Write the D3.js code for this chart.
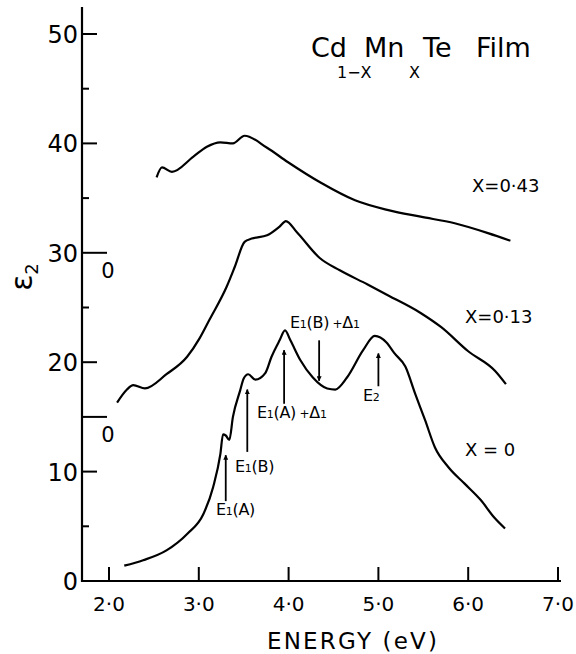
<!DOCTYPE html>
<html>
<head>
<meta charset="utf-8">
<script src="https://cdn.jsdelivr.net/npm/d3@7"></script>
<style>
    body { margin: 0; background: #fff; }
    svg { display: block; font-family: "DejaVu Sans", sans-serif; }
</style>
</head>
<body>
<div id="chart"></div>
<script>

// Spectra: photon energy (eV) and eps2 (before the vertical offset)
var energy0 = [2.17, 2.38, 2.64, 2.87, 3.05, 3.16, 3.24, 3.27, 3.30, 3.34, 3.38, 3.46, 3.50, 3.55, 3.63, 3.74, 3.81, 3.90, 3.96, 4.02, 4.13, 4.27, 4.43, 4.52, 4.65, 4.83, 4.96, 5.09, 5.18, 5.30, 5.41, 5.52, 5.63, 5.78, 5.96, 6.14, 6.29, 6.41];
var eps0    = [1.4, 1.9, 2.8, 4.3, 6.1, 8.6, 11.6, 13.4, 13.3, 12.9, 15.0, 17.4, 18.5, 18.9, 18.4, 19.0, 20.5, 22.0, 22.9, 22.0, 20.2, 18.6, 17.6, 17.5, 18.6, 21.1, 22.4, 21.8, 20.8, 19.6, 17.1, 14.7, 12.2, 10.4, 8.9, 7.4, 5.8, 4.8];

var energy13 = [2.09, 2.20, 2.27, 2.40, 2.64, 2.87, 3.01, 3.12, 3.31, 3.40, 3.51, 3.59, 3.76, 3.90, 3.97, 4.09, 4.35, 4.57, 4.88, 5.11, 5.47, 5.70, 6.00, 6.30, 6.42];
var eps13    = [1.3, 2.5, 2.9, 2.6, 3.9, 5.5, 7.2, 8.9, 11.9, 13.7, 16.0, 16.3, 16.6, 17.4, 17.9, 16.9, 14.5, 13.4, 12.1, 11.1, 9.5, 8.2, 6.0, 4.2, 3.0];

var energy43 = [2.53, 2.59, 2.70, 2.94, 3.09, 3.24, 3.38, 3.51, 3.76, 3.99, 4.36, 4.74, 5.11, 5.47, 5.85, 6.22, 6.47];
var eps43    = [6.9, 7.8, 7.4, 8.8, 9.7, 10.1, 10.0, 10.7, 9.6, 8.3, 6.4, 4.8, 3.9, 3.3, 2.7, 1.8, 1.1];

var seriesNames = ["X = 0", "X=0·13", "X=0·43"];
var offsets = [0, 15, 30];

var xTicks = [2, 3, 4, 5, 6, 7];
var xTickLabels = ["2·0", "3·0", "4·0", "5·0", "6·0", "7·0"];
var yTicks = [0, 10, 20, 30, 40, 50];
var yMinorTicks = [5, 15, 25, 35, 45];

// Arrow annotations on the X = 0 curve: [energy, tail eps, head eps]
var arrowNames = ["E1(A)", "E1(B)", "E1(A)+Δ1", "E1(B)+Δ1", "E2"];
var arrowE     = [3.30, 3.54, 3.95, 4.34, 5.00];
var arrowTail  = [7.3, 11.8, 16.2, 22.0, 17.8];
var arrowHead  = [11.5, 17.5, 21.1, 18.3, 20.8];

var width = 576, height = 654;

var x = d3.scaleLinear().domain([2, 7]).range([109, 558]);
var y = d3.scaleLinear().domain([0, 50]).range([581, 34]);

var svg = d3.select("#chart").append("svg")
    .attr("width", width)
    .attr("height", height);

svg.append("defs").append("marker")
    .attr("id", "head")
    .attr("viewBox", "0 0 10 10")
    .attr("refX", 9).attr("refY", 5)
    .attr("markerWidth", 5).attr("markerHeight", 5)
    .attr("markerUnits", "userSpaceOnUse")
    .attr("orient", "auto")
    .append("path")
    .attr("d", "M0,0 L10,5 L0,10 Z")
    .attr("fill", "#000");

// frame lines
svg.append("line")
    .attr("x1", 82).attr("x2", 82)
    .attr("y1", 7).attr("y2", y(0) + 1)
    .attr("stroke", "#000").attr("stroke-width", 2.2);
svg.append("line")
    .attr("x1", 81).attr("x2", 561)
    .attr("y1", y(0)).attr("y2", y(0))
    .attr("stroke", "#000").attr("stroke-width", 2.2);

// x ticks point up into the plot
svg.append("g").selectAll("line")
    .data(xTicks)
    .join("line")
    .attr("x1", d => x(d)).attr("x2", d => x(d))
    .attr("y1", y(0)).attr("y2", y(0) - 14)
    .attr("stroke", "#000").attr("stroke-width", 2);

svg.append("g").selectAll("text")
    .data(xTicks)
    .join("text")
    .attr("x", d => x(d))
    .attr("y", 611)
    .attr("text-anchor", "middle")
    .attr("font-size", 20)
    .text((d, i) => xTickLabels[i]);

// y ticks point right into the plot
svg.append("g").selectAll("line")
    .data(yTicks.filter(d => d > 0))
    .join("line")
    .attr("x1", 82).attr("x2", d => offsets.indexOf(d) > 0 ? 107 : 97)
    .attr("y1", d => y(d)).attr("y2", d => y(d))
    .attr("stroke", "#000").attr("stroke-width", 2);

svg.append("g").selectAll("line")
    .data(yMinorTicks)
    .join("line")
    .attr("x1", 82).attr("x2", d => offsets.indexOf(d) > 0 ? 107 : 89)
    .attr("y1", d => y(d)).attr("y2", d => y(d))
    .attr("stroke", "#000").attr("stroke-width", 2);

svg.append("g").selectAll("text")
    .data(yTicks)
    .join("text")
    .attr("x", 78)
    .attr("y", d => y(d) + 9)
    .attr("text-anchor", "end")
    .attr("font-size", 24)
    .text(d => d);

// zero markers of the shifted curves
svg.append("g").selectAll("text")
    .data(offsets.filter(d => d > 0))
    .join("text")
    .attr("x", 108)
    .attr("y", d => y(d) + 25)
    .attr("text-anchor", "middle")
    .attr("font-size", 21)
    .text("0");

// y axis title
var yt = svg.append("text")
    .attr("transform", "translate(32,277) rotate(-90)")
    .attr("text-anchor", "middle")
    .attr("font-size", 30);
yt.append("tspan").text("ε");
yt.append("tspan").attr("font-size", 18).attr("dy", 6).text("2");

svg.append("text")
    .attr("x", 352).attr("y", 649)
    .attr("text-anchor", "middle")
    .attr("font-size", 23)
    .attr("textLength", 170)
    .attr("lengthAdjust", "spacing")
    .text("ENERGY (eV)");

// title with subscripts placed under the gaps
var titleWords = ["Cd", "Mn", "Te", "Film"];
var titleX = [311, 364, 423, 476];
svg.append("g").selectAll("text")
    .data(titleWords)
    .join("text")
    .attr("x", (d, i) => titleX[i])
    .attr("y", 57)
    .attr("font-size", 27)
    .text(d => d);
svg.append("text").attr("x", 337).attr("y", 78).attr("font-size", 16).text("1−X");
svg.append("text").attr("x", 409).attr("y", 78).attr("font-size", 16).text("X");

// curves
var curves = [
    {e: energy0, v: eps0},
    {e: energy13, v: eps13},
    {e: energy43, v: eps43}
];

var line = d3.line()
    .x(d => x(d[0]))
    .y(d => y(d[1]))
    .curve(d3.curveMonotoneX);

svg.append("g").selectAll("path")
    .data(curves)
    .join("path")
    .attr("d", (c, i) => line(c.e.map((e, j) => [e, c.v[j] + offsets[i]])))
    .attr("fill", "none")
    .attr("stroke", "#000")
    .attr("stroke-width", 2.2)
    .attr("stroke-linejoin", "round");

// series labels
var labelX = [465, 465, 472];
var labelY = [456, 323, 192];
svg.append("g").selectAll("text")
    .data(seriesNames)
    .join("text")
    .attr("x", (d, i) => labelX[i])
    .attr("y", (d, i) => labelY[i])
    .attr("font-size", 18)
    .text(d => d);

// annotation arrows
svg.append("g").selectAll("line")
    .data(arrowE)
    .join("line")
    .attr("x1", d => x(d)).attr("x2", d => x(d))
    .attr("y1", (d, i) => y(arrowTail[i]))
    .attr("y2", (d, i) => y(arrowHead[i]))
    .attr("stroke", "#000").attr("stroke-width", 1.8)
    .attr("marker-end", "url(#head)");

var annX = [216, 235, 257, 290, 363];
var annY = [515, 472, 418, 328, 401];
var ann = svg.append("g").selectAll("text")
    .data(arrowNames)
    .join("text")
    .attr("x", (d, i) => annX[i])
    .attr("y", (d, i) => annY[i])
    .attr("font-size", 16)
    .attr("letter-spacing", -0.3);

ann.each(function(d) {
    var t = d3.select(this);
    var m = d.match(/^E(\d?)(.*?)(\+Δ1)?$/);
    t.append("tspan").text("E");
    if (m[1]) t.append("tspan").attr("font-size", 11).text(m[1]);
    else t.append("tspan").attr("font-size", 14).attr("dy", 1).text("2");
    if (m[2]) t.append("tspan").text(m[2]);
    if (m[3]) {
        t.append("tspan").attr("font-size", 12).text(" +");
        t.append("tspan").text("Δ");
        t.append("tspan").attr("font-size", 11).text("1");
    }
});

</script>
</body>
</html>
